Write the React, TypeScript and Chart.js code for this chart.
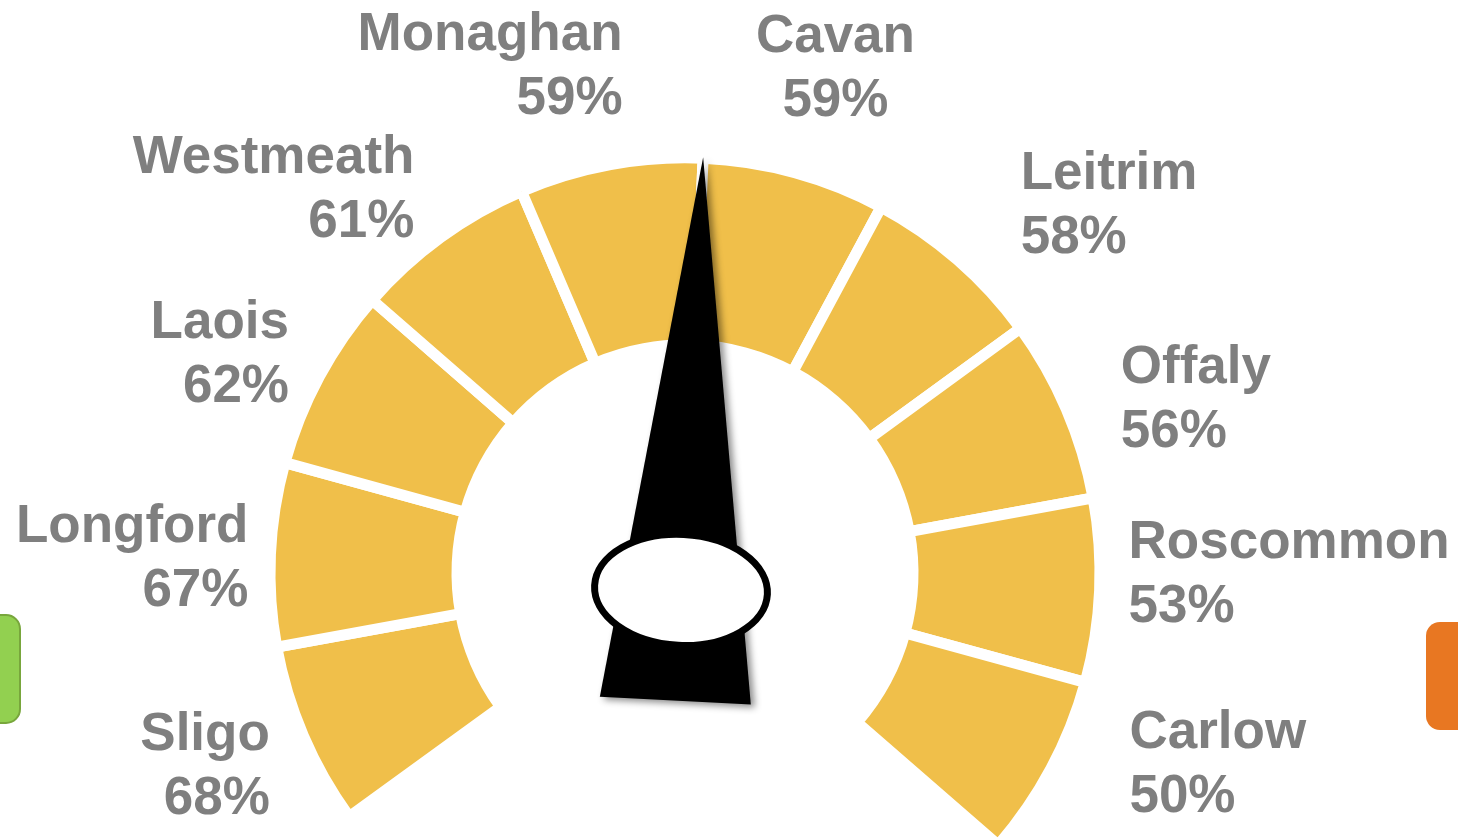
import React, { useEffect, useRef } from "react";
import { Chart, registerables } from "chart.js";

Chart.register(...registerables);

// ---------- data ----------
const counties = ["Sligo", "Longford", "Laois", "Westmeath", "Monaghan", "Cavan", "Leitrim", "Offaly", "Roscommon", "Carlow"];
const rates = [68, 67, 62, 61, 59, 59, 58, 56, 53, 50];
const segmentWeights = [1, 1, 1, 1, 1, 1, 1, 1, 1, 1];
// needle points at the boundary after this many segments (between Monaghan and Cavan)
const needleBoundary = 5;

// ---------- layout / style ----------
const YELLOW = "#F0BF4A";
const LABEL_GREY = "#7F7F7F";
const LABEL_FONT = 'bold 53px "Liberation Sans", Arial, sans-serif';
const LABEL_RADIUS = 470;
const LINE_GAP = 32;
const LABEL_NUDGE: [number, number][] = [
  [17, 24], [33, 22], [18, 20], [6, 12], [22, -29],
  [26, -36], [27, 3], [4, 28], [-26, -3], [30, -15],
];

const gaugePlugin = {
  id: "gaugeDecor",
  beforeDraw(chart: any) {
    const ctx = chart.ctx as CanvasRenderingContext2D;
    ctx.save();
    // green tab (left edge)
    ctx.beginPath();
    (ctx as any).roundRect(-20, 615, 40, 108, 14);
    ctx.fillStyle = "#92D050";
    ctx.fill();
    ctx.lineWidth = 2;
    ctx.strokeStyle = "#78A63C";
    ctx.stroke();
    // orange tab (right edge)
    ctx.beginPath();
    (ctx as any).roundRect(1426, 622, 60, 108, 14);
    ctx.fillStyle = "#E87722";
    ctx.fill();
    ctx.restore();
  },
  afterDatasetsDraw(chart: any) {
    const ctx = chart.ctx as CanvasRenderingContext2D;
    const arcs = chart.getDatasetMeta(0).data as any[];
    if (!arcs.length) return;
    const cx = arcs[0].x;
    const cy = arcs[0].y;

    // labels
    ctx.save();
    ctx.font = LABEL_FONT;
    ctx.fillStyle = LABEL_GREY;
    ctx.textBaseline = "alphabetic";
    arcs.forEach((arc, i) => {
      const mid = (arc.startAngle + arc.endAngle) / 2;
      const c = Math.cos(mid);
      const ax = cx + LABEL_RADIUS * c + LABEL_NUDGE[i][0];
      const ay = cy + LABEL_RADIUS * Math.sin(mid) + LABEL_NUDGE[i][1];
      ctx.textAlign = c < -0.05 ? "right" : c < 0.4 ? "center" : "left";
      ctx.fillText(counties[i], ax, ay - LINE_GAP);
      ctx.fillText(`${rates[i]}%`, ax, ay + LINE_GAP);
    });
    ctx.restore();

    // needle
    const bAngle = arcs[needleBoundary - 1].endAngle;
    const tipR = 416;
    const tip = { x: cx + tipR * Math.cos(bAngle), y: cy + tipR * Math.sin(bAngle) };
    const pivot = { x: cx - 4, y: cy + 17 };
    const dx = tip.x - pivot.x;
    const dy = tip.y - pivot.y;
    const L = Math.hypot(dx, dy);
    const ux = dx / L;
    const uy = dy / L;
    const px = -uy;
    const py = ux;
    const back = 111;
    const halfW = 75.6;
    const bx = pivot.x - ux * back;
    const by = pivot.y - uy * back;
    ctx.save();
    ctx.shadowColor = "rgba(0,0,0,0.45)";
    ctx.shadowBlur = 7;
    ctx.shadowOffsetX = 4;
    ctx.shadowOffsetY = 3;
    ctx.beginPath();
    ctx.moveTo(tip.x, tip.y);
    ctx.lineTo(bx + px * halfW, by + py * halfW);
    ctx.lineTo(bx - px * halfW, by - py * halfW);
    ctx.closePath();
    ctx.fillStyle = "#000";
    ctx.fill();
    ctx.restore();

    // hub ellipse
    const tilt = Math.atan2(dx, -dy);
    ctx.save();
    ctx.beginPath();
    ctx.ellipse(pivot.x, pivot.y, 86.5, 55.5, tilt, 0, Math.PI * 2);
    ctx.fillStyle = "#fff";
    ctx.fill();
    ctx.lineWidth = 7;
    ctx.strokeStyle = "#000";
    ctx.stroke();
    ctx.restore();
  },
};

export default function App() {
  const ref = useRef<HTMLCanvasElement>(null);
  useEffect(() => {
    const canvas = ref.current;
    if (!canvas) return;
    const chart = new Chart(canvas, {
      type: "doughnut",
      data: {
        labels: counties,
        datasets: [
          {
            data: segmentWeights,
            backgroundColor: YELLOW,
            borderColor: "#ffffff",
            borderWidth: 11,
            borderJoinStyle: "miter",
            hoverOffset: 0,
          } as any,
        ],
      },
      options: {
        responsive: false,
        animation: false,
        devicePixelRatio: 1,
        events: [],
        rotation: -126,
        circumference: 257,
        radius: 415,
        cutout: "54.94%",
        layout: { padding: { left: 0, right: 88, top: 163, bottom: 0 } },
        plugins: { legend: { display: false }, tooltip: { enabled: false } },
      } as any,
      plugins: [gaugePlugin],
    });
    return () => chart.destroy();
  }, []);
  return (
    <div style={{ position: "absolute", left: 0, top: 0, width: 1458, height: 840, background: "#fff", overflow: "hidden" }}>
      <canvas ref={ref} width={1458} height={840} style={{ display: "block" }} />
    </div>
  );
}
